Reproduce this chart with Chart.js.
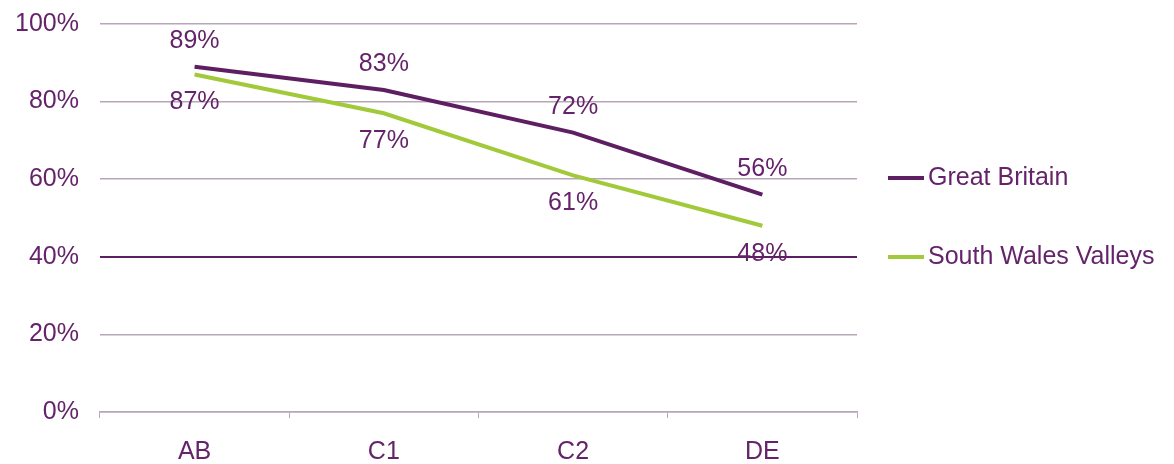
<!DOCTYPE html>
<html>
<head>
<meta charset="utf-8">
<script src="https://cdn.jsdelivr.net/npm/chart.js@4/dist/chart.umd.min.js"></script>
<style>
  html, body { margin: 0; padding: 0; background: #fff; }
  #wrap { width: 1174px; height: 464px; }
</style>
</head>
<body>
<div id="wrap"><canvas id="chart" width="1174" height="464"></canvas></div>
<script>
const categories = ["AB", "C1", "C2", "DE"];
const greatBritain = [89, 83, 72, 56];
const southWalesValleys = [87, 77, 61, 48];
const yTicks = [0, 20, 40, 60, 80, 100];

const purple = "#5e1f62";
const green = "#a2c93a";
const textColor = "#64236a";
const gridColor = "#b7a6b9";
const font = { family: "'Liberation Sans', Arial, sans-serif", size: 25 };

// value labels: GB above its points, SWV below
const valueLabels = {
  id: "valueLabels",
  afterDatasetsDraw(chart) {
    const ctx = chart.ctx;
    ctx.save();
    ctx.font = `${font.size}px ${font.family}`;
    ctx.fillStyle = textColor;
    ctx.textAlign = "center";
    ctx.textBaseline = "middle";
    chart.data.datasets.forEach((ds, i) => {
      const offset = i === 0 ? -26 : 28;
      chart.getDatasetMeta(i).data.forEach((pt, j) => {
        ctx.fillText(ds.data[j] + "%", pt.x, pt.y + offset);
      });
    });
    ctx.restore();
  }
};

// legend on the right, short thick line + label
const sideLegend = {
  id: "sideLegend",
  afterDraw(chart) {
    const ctx = chart.ctx;
    const area = chart.chartArea;
    const mid = (area.top + area.bottom) / 2;
    const ys = [mid - 40, mid + 39];
    ctx.save();
    ctx.font = `${font.size}px ${font.family}`;
    ctx.textBaseline = "middle";
    chart.data.datasets.forEach((ds, i) => {
      const x = area.right + 31;
      ctx.strokeStyle = ds.borderColor;
      ctx.lineWidth = 4;
      ctx.beginPath();
      ctx.moveTo(x, ys[i]);
      ctx.lineTo(x + 36, ys[i]);
      ctx.stroke();
      ctx.fillStyle = textColor;
      ctx.fillText(ds.label, x + 40, ys[i]);
    });
    ctx.restore();
  }
};

new Chart(document.getElementById("chart"), {
  type: "line",
  data: {
    labels: categories,
    datasets: [
      {
        label: "Great Britain",
        data: greatBritain,
        borderColor: purple,
        backgroundColor: purple,
        borderWidth: 4,
        pointRadius: 0,
        tension: 0
      },
      {
        label: "South Wales Valleys",
        data: southWalesValleys,
        borderColor: green,
        backgroundColor: green,
        borderWidth: 4,
        pointRadius: 0,
        tension: 0
      }
    ]
  },
  options: {
    responsive: false,
    animation: false,
    layout: { padding: { left: 15, right: 317, top: 24, bottom: -22 } },
    plugins: {
      legend: { display: false },
      tooltip: { enabled: false }
    },
    scales: {
      x: {
        offset: true,
        grid: {
          offset: true,
          drawOnChartArea: false,
          drawTicks: true,
          tickLength: 6,
          color: gridColor
        },
        border: { color: gridColor, width: 1.5 },
        ticks: { color: textColor, font, padding: 19 }
      },
      y: {
        min: 0,
        max: 100,
        afterBuildTicks: axis => { axis.ticks = yTicks.map(v => ({ value: v })); },
        grid: {
          drawTicks: true,
          tickLength: 21,
          tickColor: "rgba(0,0,0,0)",
          color: c => (c.tick && c.tick.value === 40 ? purple : gridColor),
          lineWidth: c => (c.tick && c.tick.value === 40 ? 2 : 1.5)
        },
        border: { display: false },
        ticks: {
          color: textColor,
          font,
          padding: 0,
          callback: v => v + "%"
        }
      }
    }
  },
  plugins: [valueLabels, sideLegend]
});
</script>
</body>
</html>
